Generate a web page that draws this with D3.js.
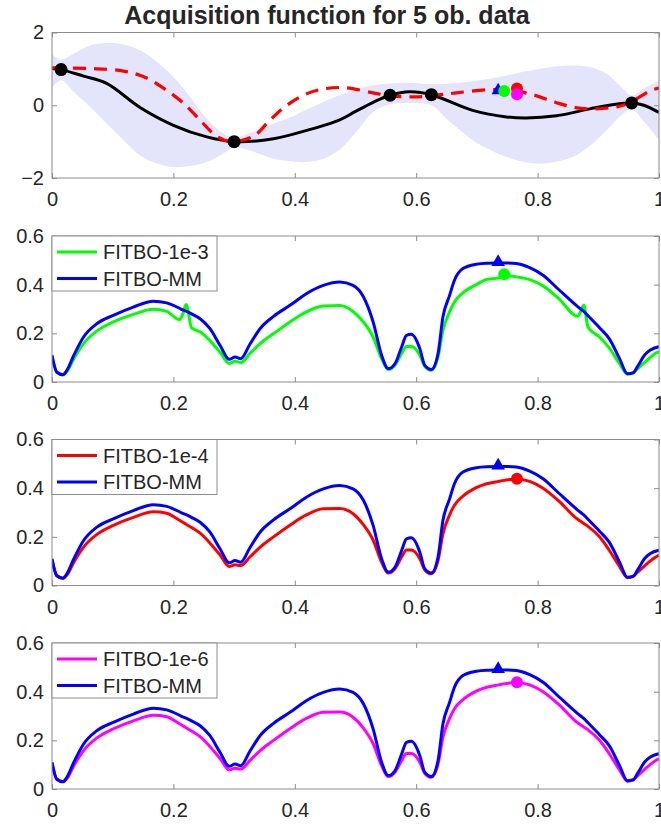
<!DOCTYPE html>
<html><head><meta charset="utf-8">
<script src="https://cdn.jsdelivr.net/npm/d3@7"></script>
<style>
body{margin:0;background:#fff}
svg{display:block}
text{font-family:"Liberation Sans",Arial,Helvetica,sans-serif;fill:#262626}
</style>
</head><body>
<svg id="c" width="661" height="826"></svg>
<script>
// ---------- data ----------
const titleText = "Acquisition function for 5 ob. data";
const xTicks = [0, 0.2, 0.4, 0.6, 0.8, 1];
const yTicksTop = [-2, 0, 2];
const yTicksAcq = [0, 0.2, 0.4, 0.6];

// observations
const obsX = [0.015, 0.30, 0.557, 0.625, 0.955];
const obsY = [0.98, -1.0, 0.275, 0.29, 0.064];

// GP posterior mean
const meanX = [0, 0.015, 0.052, 0.09, 0.145, 0.2, 0.255, 0.30, 0.365, 0.42, 0.474, 0.50, 0.529, 0.557, 0.589, 0.625, 0.693, 0.749, 0.781, 0.831, 0.886, 0.929, 0.955, 0.975, 1.0];
const meanY = [1.01, 0.98, 0.80, 0.60, -0.06, -0.55, -0.87, -1.0, -0.92, -0.69, -0.40, -0.17, 0.08, 0.275, 0.37, 0.29, -0.14, -0.32, -0.35, -0.29, -0.10, 0.03, 0.064, 0.0, -0.20];

// confidence band
const bandX = [0, 0.015, 0.036, 0.063, 0.09, 0.118, 0.145, 0.173, 0.2, 0.2275, 0.255, 0.282, 0.30, 0.332, 0.365, 0.392, 0.42, 0.447, 0.474, 0.49, 0.507, 0.529, 0.557, 0.589, 0.625, 0.65, 0.666, 0.693, 0.721, 0.749, 0.776, 0.803, 0.831, 0.858, 0.886, 0.913, 0.935, 0.955, 0.975, 1.0];
const bandUpper = [1.40, 1.25, 1.42, 1.65, 1.71, 1.67, 1.51, 1.19, 0.78, 0.23, -0.37, -0.78, -0.89, -0.73, -0.50, -0.34, -0.12, 0.09, 0.28, 0.37, 0.46, 0.55, 0.60, 0.62, 0.58, 0.59, 0.61, 0.66, 0.73, 0.82, 0.92, 1.00, 1.07, 1.09, 1.05, 0.87, 0.55, 0.27, 0.46, 0.69];
const bandLower = [0.49, 0.69, 0.37, -0.05, -0.50, -0.96, -1.38, -1.60, -1.70, -1.67, -1.56, -1.33, -1.16, -1.28, -1.47, -1.54, -1.56, -1.47, -1.22, -0.95, -0.62, -0.18, 0.03, 0.06, 0.0, -0.37, -0.60, -0.96, -1.22, -1.42, -1.55, -1.60, -1.55, -1.42, -1.12, -0.70, -0.32, -0.12, -0.45, -0.96];

// true objective (dashed)
const trueX = [0, 0.063, 0.118, 0.156, 0.189, 0.217, 0.244, 0.271, 0.295, 0.332, 0.359, 0.387, 0.42, 0.452, 0.485, 0.529, 0.557, 0.595, 0.625, 0.666, 0.721, 0.754, 0.792, 0.831, 0.869, 0.907, 0.946, 0.987, 1.0];
const trueY = [1.03, 1.01, 0.94, 0.75, 0.41, 0.05, -0.41, -0.85, -1.0, -0.85, -0.41, 0.0, 0.32, 0.46, 0.48, 0.34, 0.26, 0.23, 0.26, 0.34, 0.43, 0.42, 0.29, 0.07, -0.08, -0.09, 0.03, 0.41, 0.47];

// next query points shown in top panel
const nextNames = ["FITBO-MM", "FITBO-1e-3", "FITBO-1e-4", "FITBO-1e-6"];
const nextX = [0.735, 0.745, 0.766, 0.766];
const nextYTop = [0.41, 0.39, 0.46, 0.30];
const nextAcq = [0.489, 0.443, 0.439, 0.439];

// acquisition functions
const acqX = [0, 0.008, 0.018, 0.025, 0.036, 0.052, 0.074, 0.101, 0.134, 0.167,
  0.189, 0.21, 0.2155, 0.221, 0.23, 0.244, 0.26, 0.277, 0.292, 0.3015,
  0.311, 0.326, 0.343, 0.365, 0.392, 0.419, 0.447, 0.474, 0.496, 0.513,
  0.529, 0.543, 0.554, 0.565, 0.576, 0.584, 0.592, 0.606, 0.614, 0.625,
  0.636, 0.644, 0.655, 0.663, 0.677, 0.699, 0.716, 0.736, 0.745, 0.765,
  0.787, 0.809, 0.836, 0.866, 0.872, 0.876, 0.883, 0.902, 0.918, 0.935,
  0.948, 0.957, 0.965, 0.976, 0.998, 1.0];
const acqMM = [0.11, 0.04, 0.03, 0.05, 0.11, 0.185, 0.24, 0.274, 0.308, 0.332,
  0.325, 0.303, 0.296, 0.291, 0.28, 0.26, 0.22, 0.15, 0.093, 0.103,
  0.096, 0.155, 0.22, 0.27, 0.315, 0.363, 0.397, 0.411, 0.397, 0.35,
  0.247, 0.11, 0.055, 0.075, 0.144, 0.192, 0.196, 0.137, 0.069, 0.051,
  0.117, 0.267, 0.356, 0.418, 0.466, 0.484, 0.488, 0.489, 0.489, 0.487,
  0.47, 0.439, 0.377, 0.31, 0.298, 0.29, 0.272, 0.223, 0.178, 0.096,
  0.034, 0.037, 0.065, 0.11, 0.144, 0.145];
const acq1e3 = [0.105, 0.04, 0.03, 0.045, 0.096, 0.158, 0.21, 0.247, 0.278, 0.299,
  0.29, 0.256, 0.28, 0.319, 0.222, 0.206, 0.17, 0.122, 0.076, 0.085,
  0.08, 0.117, 0.158, 0.199, 0.247, 0.288, 0.312, 0.314, 0.29, 0.247,
  0.185, 0.096, 0.051, 0.069, 0.117, 0.146, 0.146, 0.11, 0.065, 0.048,
  0.103, 0.212, 0.288, 0.329, 0.366, 0.40, 0.421, 0.428, 0.438, 0.432,
  0.421, 0.395, 0.34, 0.27, 0.295, 0.315, 0.226, 0.185, 0.14, 0.075,
  0.032, 0.038, 0.055, 0.08, 0.123, 0.125];
const acq1e4 = [0.105, 0.04, 0.03, 0.045, 0.096, 0.158, 0.21, 0.247, 0.28, 0.303,
  0.297, 0.268, 0.26, 0.252, 0.238, 0.215, 0.175, 0.125, 0.078, 0.085,
  0.082, 0.117, 0.158, 0.2, 0.248, 0.29, 0.315, 0.316, 0.295, 0.25,
  0.187, 0.096, 0.051, 0.069, 0.117, 0.146, 0.146, 0.11, 0.065, 0.048,
  0.103, 0.212, 0.29, 0.33, 0.367, 0.402, 0.418, 0.428, 0.432, 0.438,
  0.428, 0.4, 0.345, 0.272, 0.262, 0.255, 0.243, 0.2, 0.145, 0.078,
  0.032, 0.038, 0.055, 0.08, 0.122, 0.124];
const acq1e6 = [0.105, 0.04, 0.03, 0.045, 0.096, 0.158, 0.21, 0.247, 0.28, 0.303,
  0.297, 0.268, 0.26, 0.252, 0.238, 0.215, 0.175, 0.125, 0.078, 0.085,
  0.082, 0.117, 0.158, 0.2, 0.248, 0.29, 0.315, 0.316, 0.295, 0.25,
  0.187, 0.096, 0.051, 0.069, 0.117, 0.146, 0.146, 0.11, 0.065, 0.048,
  0.103, 0.212, 0.29, 0.33, 0.367, 0.402, 0.418, 0.428, 0.432, 0.438,
  0.428, 0.4, 0.345, 0.272, 0.262, 0.255, 0.243, 0.2, 0.145, 0.078,
  0.032, 0.038, 0.055, 0.08, 0.122, 0.124];

// ---------- drawing ----------
const svg = d3.select("#c");
const X0 = 52, X1 = 659;
const x = d3.scaleLinear().domain([0, 1]).range([X0, X1]);
const AX = "#8c8c8c";
const FS = 20;

function makePanel(top, h, ydom, yticks, id) {
  const y = d3.scaleLinear().domain(ydom).range([top + h, top]);
  const g = svg.append("g");
  svg.append("clipPath").attr("id", id).append("rect")
    .attr("x", X0).attr("y", top).attr("width", X1 - X0).attr("height", h);
  const plot = g.append("g").attr("clip-path", `url(#${id})`);
  const axes = svg.append("g");
  const fmt = d => d3.format("")(d);
  const ab = axes.append("g").attr("transform", `translate(0,${top + h})`)
    .call(d3.axisBottom(x).tickValues(xTicks).tickSize(-5).tickPadding(14).tickFormat(fmt));
  const at = axes.append("g").attr("transform", `translate(0,${top})`)
    .call(d3.axisTop(x).tickValues(xTicks).tickSize(-5).tickFormat(""));
  const al = axes.append("g").attr("transform", `translate(${X0},0)`)
    .call(d3.axisLeft(y).tickValues(yticks).tickSize(-5).tickPadding(8).tickFormat(fmt));
  const ar = axes.append("g").attr("transform", `translate(${X1},0)`)
    .call(d3.axisRight(y).tickValues(yticks).tickSize(-5).tickFormat(""));
  [ab, at, al, ar].forEach(a => {
    a.select(".domain").remove();
    a.selectAll("line").attr("stroke", AX);
    a.selectAll("text").style("font-size", FS + "px").attr("fill", "#262626");
  });
  axes.append("rect").attr("x", X0).attr("y", top).attr("width", X1 - X0).attr("height", h)
    .attr("fill", "none").attr("stroke", AX).attr("stroke-width", 1);
  return { plot, y, axes, top, h };
}

// title
svg.append("text").attr("x", 327).attr("y", 24).attr("text-anchor", "middle")
  .style("font-size", "25px").style("font-weight", "bold").attr("fill", "#000").text(titleText);

// ---- top panel ----
const P0 = makePanel(32.5, 145.5, [-2, 2], yTicksTop, "clip0");
{
  const y = P0.y;
  const band = bandX.map((v, i) => ({ x: v, lo: bandLower[i], hi: bandUpper[i] }));
  P0.plot.append("path").datum(band)
    .attr("d", d3.area().x(d => x(d.x)).y0(d => y(d.lo)).y1(d => y(d.hi)).curve(d3.curveCatmullRom.alpha(0.5)))
    .attr("fill", "#e4e4fb");
  P0.plot.append("path").datum(meanX.map((v, i) => [v, meanY[i]]))
    .attr("d", d3.line().x(d => x(d[0])).y(d => y(d[1])).curve(d3.curveCatmullRom.alpha(0.5)))
    .attr("fill", "none").attr("stroke", "#000").attr("stroke-width", 3);
  P0.plot.append("path").datum(trueX.map((v, i) => [v, trueY[i]]))
    .attr("d", d3.line().x(d => x(d[0])).y(d => y(d[1])).curve(d3.curveCatmullRom.alpha(0.5)))
    .attr("fill", "none").attr("stroke", "#ff0000").attr("stroke-width", 3.2).attr("stroke-dasharray", "13,8");
  P0.plot.selectAll("circle.obs").data(obsX).enter().append("circle")
    .attr("cx", d => x(d)).attr("cy", (d, i) => y(obsY[i])).attr("r", 6.5).attr("fill", "#000");
  const cols = ["#0000ff", "#00ff00", "#ff0000", "#ff00ff"];
  nextX.forEach((v, i) => {
    if (i === 0) {
      P0.plot.append("path").attr("d", d3.symbol().type(d3.symbolTriangle).size(75)())
        .attr("transform", `translate(${x(v)},${y(nextYTop[i])})`).attr("fill", cols[i]);
    } else {
      P0.plot.append("circle").attr("cx", x(v)).attr("cy", y(nextYTop[i])).attr("r", 6).attr("fill", cols[i]);
    }
  });
}

// ---- acquisition panels ----
function acqPanel(top, series, color, name, markIdx, id) {
  const P = makePanel(top, 146, [0, 0.6], yTicksAcq, id);
  const y = P.y;
  const line = d3.line().x(d => x(d[0])).y(d => y(d[1])).curve(d3.curveMonotoneX);
  P.plot.append("path").datum(acqX.map((v, i) => [v, series[i]]))
    .attr("d", line).attr("fill", "none").attr("stroke", color).attr("stroke-width", 3).attr("stroke-linejoin", "round");
  P.plot.append("path").datum(acqX.map((v, i) => [v, acqMM[i]]))
    .attr("d", line).attr("fill", "none").attr("stroke", "#0000ff").attr("stroke-width", 3).attr("stroke-linejoin", "round");
  P.plot.append("circle").attr("cx", x(nextX[markIdx])).attr("cy", y(nextAcq[markIdx])).attr("r", 6).attr("fill", color);
  P.plot.append("path").attr("d", d3.symbol().type(d3.symbolTriangle).size(80)())
    .attr("transform", `translate(${x(nextX[0])},${y(nextAcq[0]) - 1})`).attr("fill", "#0000ff");
  // legend
  const lg = svg.append("g").attr("transform", `translate(${X0},${top})`);
  lg.append("rect").attr("x", 0).attr("y", 0).attr("width", 165).attr("height", 55)
    .attr("fill", "#fff").attr("stroke", AX).attr("stroke-width", 1);
  [[name, color], ["FITBO-MM", "#0000ff"]].forEach((it, i) => {
    const ry = 16 + i * 26.6;
    lg.append("line").attr("x1", 5).attr("x2", 45).attr("y1", ry).attr("y2", ry)
      .attr("stroke", it[1]).attr("stroke-width", 3);
    lg.append("text").attr("x", 51).attr("y", ry + 7).style("font-size", FS + "px").text(it[0]);
  });
}
acqPanel(236, acq1e3, "#00ff00", "FITBO-1e-3", 1, "clip1");
acqPanel(439.5, acq1e4, "#ff0000", "FITBO-1e-4", 2, "clip2");
acqPanel(643, acq1e6, "#ff00ff", "FITBO-1e-6", 3, "clip3");
</script>
</body></html>
